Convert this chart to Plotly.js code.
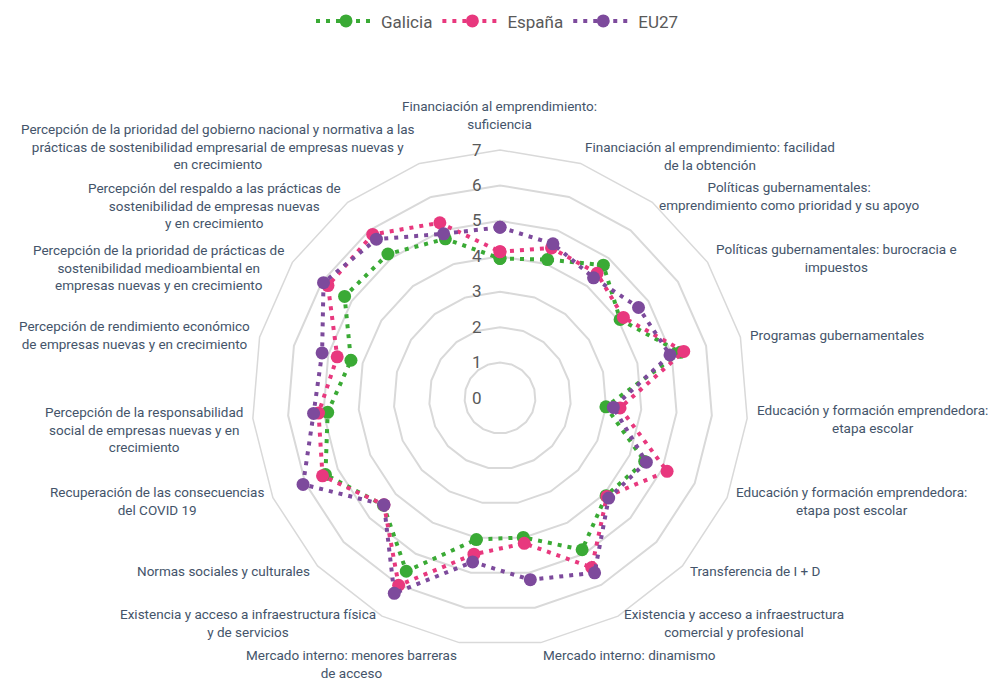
<!DOCTYPE html>
<html>
<head>
<meta charset="utf-8">
<script src="https://cdn.plot.ly/plotly-3.0.1.min.js"></script>
<style>
  body { margin: 0; background: #fff; }
  #chart { width: 995px; height: 680px; }
</style>
</head>
<body>
<div id="chart"></div>
<script>
// categories (clockwise from the top)
let categorias = [
  "Financiación al emprendimiento:<br>suficiencia",
  "Financiación al emprendimiento: facilidad<br>de la obtención",
  "Políticas gubernamentales:<br>emprendimiento como prioridad y su apoyo",
  "Políticas gubernamentales: burocracia e<br>impuestos",
  "Programas gubernamentales",
  "Educación y formación emprendedora:<br>etapa escolar",
  "Educación y formación emprendedora:<br>etapa post escolar",
  "Transferencia de I + D",
  "Existencia y acceso a infraestructura<br>comercial y profesional",
  "Mercado interno: dinamismo",
  "Mercado interno: menores barreras<br>de acceso",
  "Existencia y acceso a infraestructura física<br>y de servicios",
  "Normas sociales y culturales",
  "Recuperación de las consecuencias<br>del COVID 19",
  "Percepción de la responsabilidad<br>social de empresas nuevas y en<br>crecimiento",
  "Percepción de rendimiento económico<br>de empresas nuevas y en crecimiento",
  "Percepción de la prioridad de prácticas de<br>sostenibilidad medioambiental en<br>empresas nuevas y en crecimiento",
  "Percepción del respaldo a las prácticas de<br>sostenibilidad de empresas nuevas<br>y en crecimiento",
  "Percepción de la prioridad del gobierno nacional y normativa a las<br>prácticas de sostenibilidad empresarial de empresas nuevas y<br>en crecimiento"
];

let galicia = [3.94, 4.13, 4.75, 4.05, 5.25, 3.00, 4.46, 4.07, 4.87, 3.99, 4.05, 5.56, 4.47, 5.38, 4.88, 4.34, 5.24, 5.15, 4.75];
let espana  = [4.13, 4.48, 4.46, 4.16, 5.35, 3.40, 5.15, 4.10, 5.44, 4.16, 4.47, 6.01, 4.45, 5.47, 5.14, 4.74, 5.80, 5.85, 5.23];
let eu27    = [4.82, 4.60, 4.30, 4.67, 4.95, 3.21, 4.51, 4.17, 5.61, 5.20, 4.69, 6.27, 4.45, 6.07, 5.28, 5.18, 5.95, 5.68, 4.90];

let radialTicks = [0, 1, 2, 3, 4, 5, 6, 7];

// keys used for theta (plain text, unique)
let claves = categorias.map((c, i) => "c" + i);

let fuente = "Roboto, 'Noto Sans', sans-serif";
let textColor = "#44546a";

function serie(nombre, valores, color) {
  return {
    type: "scatterpolar",
    name: nombre,
    r: valores.concat([valores[0]]),
    theta: claves.concat([claves[0]]),
    mode: "lines+markers",
    line: { color: color, width: 4, dash: "4px,6px" },
    marker: { color: color, size: 13 },
    cliponaxis: false,
    hoverinfo: "skip"
  };
}

let data = [
  serie("Galicia", galicia, "#3aaa35"),
  serie("España", espana, "#e8387e"),
  serie("EU27", eu27, "#7d4a9c")
];

// polar geometry (pixels)
let W = 995, H = 680;
let cx = 500, cy = 398, R = 248;

// category labels as centred annotations outside the outer ring
let annotations = categorias.map((txt, i) => {
  let ang = (90 - i * 360 / categorias.length) * Math.PI / 180;
  let c = Math.cos(ang), s = Math.sin(ang);
  let lineas = txt.split("<br>").length;
  let off = s < -0.95 ? 2 : (s > 0.98 ? 16 : 8);
  let px = cx + (R + off) * c;
  let py = (H - cy) + (R + off) * s;
  // three-line labels sit a little lower, except near the top
  if (lineas === 3) py += s > 0.9 ? 9 : -10;
  let xa = Math.abs(c) < 0.05 ? "center" : (c > 0 ? "left" : "right");
  let ya = s > 0.98 ? "bottom" : (s < -0.95 ? "top" : "middle");
  return {
    text: txt, x: px / W, y: py / H, xref: "paper", yref: "paper",
    xanchor: xa, yanchor: ya, align: "center", showarrow: false,
    font: { family: fuente, size: 13.5, color: textColor }
  };
});

let layout = {
  width: W, height: H,
  margin: { l: 0, r: 0, t: 0, b: 0 },
  paper_bgcolor: "#ffffff",
  font: { family: fuente, color: "#595959" },
  showlegend: true,
  legend: {
    orientation: "h", x: 0.5, xanchor: "center", y: 0.995, yanchor: "top",
    font: { family: fuente, size: 17, color: "#595959" },
    itemwidth: 60
  },
  polar: {
    domain: { x: [(cx - R) / W, (cx + R) / W], y: [((H - cy) - R) / H, ((H - cy) + R) / H] },
    gridshape: "linear",
    bgcolor: "rgba(0,0,0,0)",
    radialaxis: {
      range: [0, 7],
      tickvals: radialTicks,
      angle: 90,
      side: "counterclockwise",
      tickangle: 90,
      showline: false,
      ticks: "outside",
      ticklen: 12,
      tickcolor: "rgba(0,0,0,0)",
      gridcolor: "#d9d9d9",
      gridwidth: 1.5,
      tickfont: { family: fuente, size: 17, color: "#595959" }
    },
    angularaxis: {
      type: "category",
      categoryarray: claves,
      rotation: 90,
      direction: "clockwise",
      showgrid: false,
      showticklabels: false,
      ticks: "",
      linecolor: "#d9d9d9",
      linewidth: 1.5
    }
  },
  annotations: annotations
};

Plotly.newPlot("chart", data, layout, { displayModeBar: false });
</script>
</body>
</html>
